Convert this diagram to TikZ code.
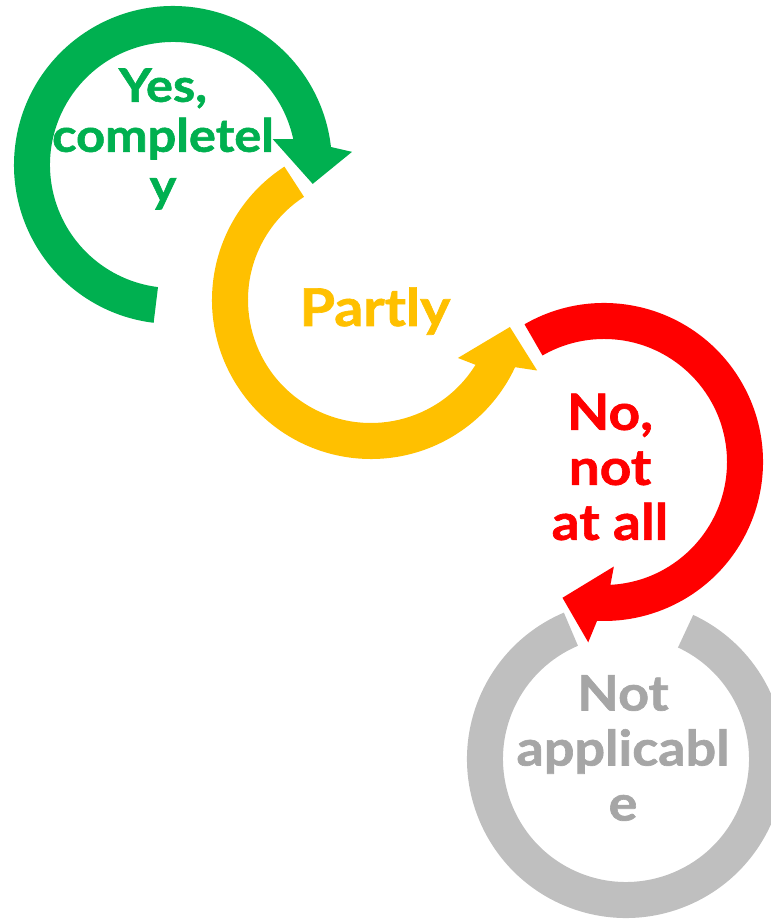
\documentclass[tikz,border=0pt]{standalone}
\usepackage{fontspec}
\setmainfont{Lato}[FakeStretch=1.1, BoldFeatures={FakeBold=1.3}]
\definecolor{cgreen}{HTML}{00B050}
\definecolor{cyellow}{HTML}{FFC000}
\definecolor{cred}{HTML}{FF0000}
\definecolor{cgray}{HTML}{BFBFBF}
\definecolor{cgraytext}{HTML}{A6A6A6}
\begin{document}
\begin{tikzpicture}[x=1pt,y=1pt,
  lbl/.style={align=center, inner sep=0pt}]
\useasboundingbox (0,0) rectangle (771,919);
\clip (0,0) rectangle (771,919);
\coordinate (gc) at (173,754);
\coordinate (yc) at (371,619);
\coordinate (rc) at (604,457);
\coordinate (ac) at (626,160);
% green arrow (clockwise)
\begin{scope}[shift={(gc)}]
\fill[cgreen] (263:159) arc[start angle=263,end angle=6.5,radius=159]
  -- (4.2:179.5) -- (-7.7:141) -- (14.6:103) -- (12.2:123)
  arc[start angle=12.2,end angle=263,radius=123] -- cycle;
\end{scope}
% yellow arrow (counter-clockwise)
\begin{scope}[shift={(yc)}]
\fill[cyellow] (123:159) arc[start angle=123,end angle=335,radius=159]
  -- (337:180.5) -- (349:141.5) -- (326.3:104.5) -- (328.2:123)
  arc[start angle=328.2,end angle=123,radius=123] -- cycle;
\end{scope}
% red arrow (clockwise)
\begin{scope}[shift={(rc)}]
\fill[cred] (120:159) arc[start angle=120,end angle=-92.5,radius=159]
  -- (-95:181) -- (-107:142) -- (-84.6:105) -- (-87:123)
  arc[start angle=-87,end angle=120,radius=123] -- cycle;
\end{scope}
% gray ring
\begin{scope}[shift={(ac)}]
\fill[cgray] (113:159) arc[start angle=113,end angle=425,radius=159]
  -- (425:123) arc[start angle=425,end angle=113,radius=123] -- cycle;
\end{scope}
\node[lbl, text=cgreen, font=\bfseries\fontsize{46}{50}\selectfont] (tgreen) at (163,780) {Yes,\\completel\\y};
\node[lbl, text=cyellow, font=\bfseries\fontsize{52}{58}\selectfont, anchor=base] (tyellow) at (375,593) {Partly};
\node[lbl, text=cred, font=\bfseries\fontsize{50}{55}\selectfont] (tred) at (610,452) {No,\\not\\at all};
\node[lbl, text=cgraytext, font=\bfseries\fontsize{49}{55}\selectfont] (tgray) at (623,171) {Not\\applicabl\\e};
\end{tikzpicture}
\end{document}
